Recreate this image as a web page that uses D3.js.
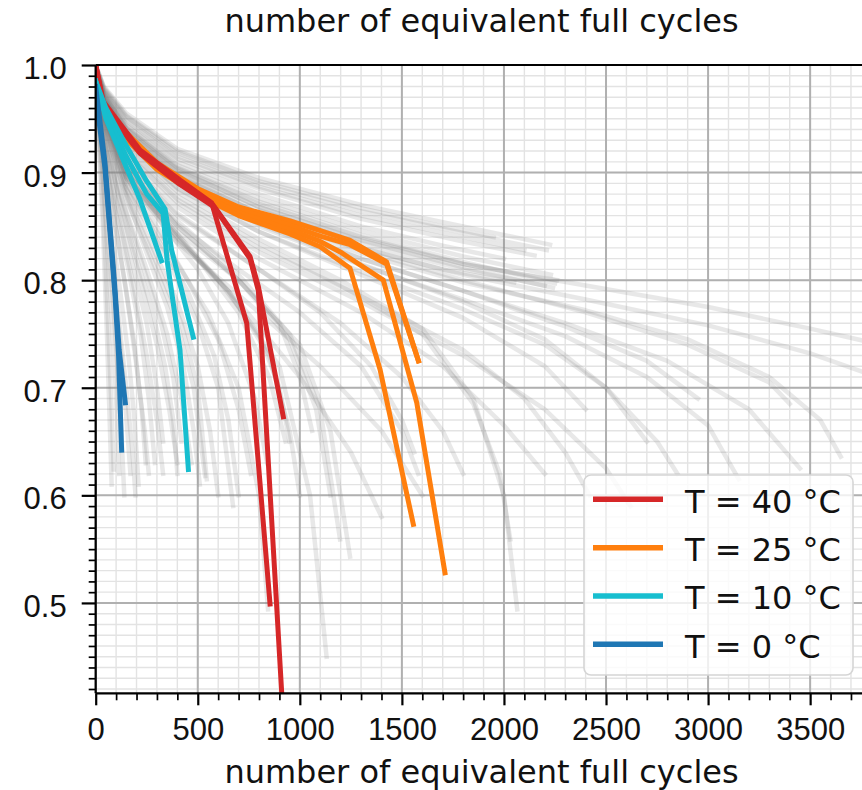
<!DOCTYPE html>
<html>
<head>
<meta charset="utf-8">
<script src="https://cdn.jsdelivr.net/npm/d3@7"></script>
<style>
  html, body { margin: 0; padding: 0; background: #fff; }
  svg { display: block; font-family: "DejaVu Sans", sans-serif; }
</style>
</head>
<body>
<svg id="chart" width="862" height="790"></svg>
<script>
// ---------------- data ----------------
const xDomain = [0, 3780];
const yDomain = [0.416, 1.0];
const xMajorTicks = [0, 500, 1000, 1500, 2000, 2500, 3000, 3500];
const yMajorTicks = [0.5, 0.6, 0.7, 0.8, 0.9, 1.0];
const xLabel = "number of equivalent full cycles";
const legendLabels = ["T = 40 °C", "T = 25 °C", "T = 10 °C", "T = 0 °C"];
const legendColors = ["#d62728", "#ff7f0e", "#17becf", "#1f77b4"];

// T = 40 °C (red)
const red1 = [[0,1.0],[37,0.966],[217,0.921],[413,0.893],[568,0.872],[740,0.760],[854,0.499]];
const red2 = [[0,1.0],[37,0.964],[217,0.919],[413,0.891],[575,0.870],[756,0.822],[797,0.794],[919,0.673]];
const red3 = [[0,1.0],[37,0.962],[217,0.918],[413,0.889],[580,0.868],[756,0.820],[797,0.790],[911,0.417],[925,0.38]];
// T = 25 °C (orange)
const orange1 = [[0,0.985],[40,0.963],[150,0.937],[300,0.909],[500,0.885],[700,0.868],[952,0.855],[1100,0.846],[1246,0.837],[1425,0.817],[1581,0.725]];
const orange4 = [[0,0.985],[40,0.962],[150,0.935],[300,0.907],[500,0.883],[700,0.866],[952,0.851],[1100,0.841],[1246,0.833],[1425,0.815],[1581,0.725]];
const orange2 = [[0,0.985],[40,0.961],[150,0.933],[300,0.905],[500,0.881],[700,0.863],[952,0.847],[1100,0.836],[1200,0.826],[1409,0.800],[1573,0.686],[1711,0.528]];
const orange3 = [[0,0.985],[40,0.960],[150,0.931],[300,0.903],[500,0.879],[700,0.860],[952,0.843],[1100,0.831],[1246,0.811],[1393,0.717],[1556,0.573]];
// T = 10 °C (cyan)
const cyan1 = [[0,0.985],[50,0.960],[150,0.925],[250,0.892],[340,0.866],[372,0.828],[478,0.747]];
const cyan2 = [[0,0.985],[50,0.955],[150,0.915],[250,0.880],[330,0.862],[350,0.818],[413,0.735],[454,0.624]];
const cyan3 = [[0,0.985],[50,0.950],[150,0.905],[215,0.876],[322,0.818]];
// T = 0 °C (blue)
const blue1 = [[0,0.980],[45,0.910],[70,0.850],[95,0.790],[115,0.735],[145,0.686]];
const blue2 = [[0,0.972],[45,0.905],[70,0.845],[95,0.785],[112,0.730],[127,0.642]];

// all other cells (grey background curves)
const greyCurves = [
  [[0,1],[40,0.98],[150,0.955],[400,0.922],[800,0.895],[1300,0.87],[1800,0.85],[2226,0.833]],
  [[0,1],[40,0.978],[150,0.952],[400,0.918],[800,0.89],[1300,0.864],[1800,0.844],[2210,0.828]],
  [[0,0.999],[40,0.976],[150,0.948],[400,0.913],[800,0.885],[1300,0.857],[1800,0.836],[2150,0.823]],
  [[0,0.999],[40,0.975],[150,0.945],[400,0.91],[800,0.88],[1300,0.85],[1700,0.832],[2000,0.82]],
  [[0,0.998],[40,0.973],[150,0.942],[400,0.905],[800,0.873],[1300,0.842],[1800,0.817],[2250,0.797]],
  [[0,0.998],[40,0.972],[150,0.94],[400,0.902],[800,0.868],[1300,0.837],[1800,0.812],[2240,0.793]],
  [[0,0.998],[40,0.971],[150,0.938],[400,0.9],[800,0.865],[1300,0.834],[1800,0.81],[2200,0.795]],
  [[0,0.997],[40,0.97],[150,0.935],[400,0.897],[800,0.862],[1300,0.83],[1700,0.81],[2050,0.798]],
  [[0,0.998],[40,0.972],[150,0.94],[400,0.903],[800,0.868],[1300,0.838],[1800,0.815],[2400,0.795],[3000,0.775],[3500,0.755],[3800,0.742]],
  [[0,0.997],[40,0.97],[150,0.936],[400,0.898],[800,0.862],[1300,0.83],[1800,0.805],[2400,0.782],[3000,0.758],[3500,0.732],[3800,0.712]],
  [[0,0.997],[40,0.969],[150,0.934],[400,0.895],[800,0.858],[1300,0.825],[1800,0.798],[2400,0.772],[2900,0.745],[3300,0.71],[3550,0.67],[3650,0.636]],
  [[0,0.996],[40,0.968],[150,0.932],[400,0.892],[800,0.854],[1300,0.82],[1800,0.79],[2300,0.76],[2800,0.725],[3200,0.68],[3450,0.625]],
  [[0,0.996],[40,0.967],[150,0.93],[400,0.89],[800,0.85],[1300,0.814],[1800,0.782],[2300,0.748],[2700,0.71],[3000,0.665],[3150,0.615]],
  [[0,0.996],[40,0.966],[150,0.928],[400,0.886],[800,0.845],[1300,0.808],[1800,0.773],[2200,0.74],[2500,0.7],[2750,0.65],[2850,0.62]],
  [[0,0.995],[40,0.965],[150,0.925],[400,0.882],[800,0.838],[1200,0.8],[1600,0.755],[1850,0.69],[2000,0.6],[2065,0.494]],
  [[0,0.995],[40,0.964],[150,0.922],[400,0.878],[800,0.834],[1200,0.795],[1600,0.75],[1850,0.685],[1980,0.62],[2031,0.559]],
  [[0,0.995],[40,0.964],[150,0.92],[400,0.875],[800,0.83],[1300,0.785],[1800,0.735],[2100,0.69],[2300,0.64],[2420,0.6]],
  [[0,0.995],[40,0.963],[150,0.918],[400,0.872],[800,0.826],[1300,0.78],[1800,0.73],[2200,0.68],[2500,0.625],[2620,0.59]],
  [[0,0.994],[40,0.962],[150,0.915],[400,0.868],[800,0.82],[1300,0.77],[1700,0.72],[2000,0.665],[2200,0.62]],
  [[0,0.994],[40,0.96],[150,0.912],[400,0.862],[800,0.81],[1200,0.76],[1500,0.71],[1700,0.66],[1800,0.62]],
  [[0,0.994],[40,0.958],[150,0.908],[400,0.855],[700,0.805],[950,0.75],[1100,0.68],[1197,0.559]],
  [[0,0.993],[40,0.957],[150,0.905],[400,0.85],[700,0.8],[1000,0.74],[1150,0.66],[1246,0.543]],
  [[0,0.993],[40,0.955],[150,0.9],[400,0.843],[650,0.79],[900,0.72],[1050,0.6],[1131,0.45]],
  [[0,0.993],[40,0.954],[150,0.897],[400,0.838],[700,0.78],[1000,0.71],[1250,0.64],[1400,0.58]],
  [[0,0.992],[40,0.953],[150,0.895],[400,0.835],[800,0.77],[1100,0.72],[1400,0.66],[1600,0.6]],
  [[0,0.992],[40,0.952],[150,0.89],[350,0.83],[550,0.77],[700,0.7],[800,0.6],[844,0.494]],
  [[0,0.992],[40,0.95],[150,0.885],[350,0.82],[500,0.76],[600,0.7],[673,0.59]],
  [[0,0.991],[40,0.948],[150,0.88],[300,0.815],[420,0.76],[500,0.7],[544,0.615]],
  [[0,0.991],[40,0.946],[150,0.875],[300,0.808],[400,0.76],[480,0.7],[536,0.618]],
  [[0,0.99],[40,0.944],[130,0.875],[250,0.81],[350,0.75],[420,0.69],[470,0.63]],
  [[0,0.99],[40,0.94],[120,0.87],[220,0.8],[300,0.74],[360,0.68],[400,0.63]],
  [[0,0.99],[30,0.945],[100,0.87],[180,0.8],[250,0.73],[300,0.67],[330,0.62]],
  [[0,0.99],[30,0.94],[90,0.86],[150,0.79],[200,0.72],[240,0.66],[260,0.62]],
  [[0,0.99],[30,0.93],[70,0.85],[110,0.77],[150,0.7],[180,0.64],[195,0.6]],
  [[0,0.99],[20,0.93],[50,0.85],[80,0.76],[100,0.69],[115,0.62]],
  [[0,0.99],[20,0.92],[45,0.83],[65,0.74],[80,0.67],[88,0.624]],
  [[0,0.99],[15,0.93],[35,0.85],[55,0.75],[70,0.66],[78,0.61]],
  [[0,0.993],[40,0.956],[150,0.905],[400,0.852],[700,0.81],[1000,0.77],[1300,0.72],[1500,0.66],[1580,0.62]],
  [[0,0.993],[40,0.955],[150,0.9],[400,0.845],[700,0.8],[900,0.76],[1000,0.71],[1060,0.66]],
  [[0,0.992],[40,0.953],[150,0.895],[400,0.84],[600,0.8],[800,0.75],[900,0.7],[950,0.65]],
  [[0,0.996],[40,0.966],[150,0.93],[400,0.89],[800,0.852],[1300,0.815],[1800,0.78],[2200,0.745],[2500,0.7],[2700,0.65]],
  [[0,0.995],[40,0.965],[150,0.927],[400,0.885],[800,0.845],[1300,0.805],[1800,0.765],[2200,0.72],[2400,0.68]],
  [[0,0.997],[40,0.969],[150,0.935],[400,0.896],[800,0.86],[1300,0.828],[1800,0.8],[2400,0.77],[2900,0.74],[3300,0.705],[3400,0.685]],
  [[0,0.996],[40,0.968],[150,0.932],[400,0.893],[800,0.856],[1300,0.82],[1800,0.79],[2300,0.757],[2700,0.725],[2950,0.69]],
  [[0,0.993],[40,0.955],[150,0.905],[300,0.865],[500,0.82],[700,0.77],[850,0.71],[930,0.65]],
  [[0,0.992],[40,0.952],[150,0.9],[300,0.858],[500,0.81],[650,0.76],[780,0.69],[840,0.63]],
  [[0,0.992],[40,0.95],[150,0.895],[300,0.85],[450,0.8],[600,0.745],[700,0.68],[760,0.62]],
  [[0,0.991],[40,0.948],[150,0.89],[300,0.84],[450,0.79],[580,0.73],[650,0.67],[700,0.6]],
  [[0,0.991],[40,0.946],[150,0.885],[280,0.83],[400,0.78],[500,0.72],[560,0.66],[600,0.6]],
  [[0,0.99],[40,0.944],[150,0.878],[250,0.825],[350,0.775],[430,0.72],[480,0.66],[510,0.61]],
  [[0,0.99],[40,0.94],[120,0.88],[220,0.82],[320,0.76],[380,0.71],[420,0.65]],
  [[0,0.99],[30,0.945],[110,0.88],[200,0.82],[280,0.77],[340,0.72],[380,0.67],[400,0.62]],
  [[0,0.99],[30,0.94],[100,0.875],[180,0.815],[250,0.76],[300,0.7],[330,0.65]],
  [[0,0.99],[30,0.935],[90,0.87],[160,0.81],[220,0.75],[260,0.69],[290,0.63]],
  [[0,0.99],[25,0.94],[80,0.87],[140,0.8],[190,0.74],[225,0.68],[245,0.63]],
  [[0,0.99],[25,0.935],[70,0.86],[120,0.79],[160,0.73],[190,0.67],[210,0.61]],
  [[0,0.99],[20,0.94],[60,0.86],[100,0.78],[130,0.72],[155,0.66],[170,0.62]],
  [[0,0.99],[20,0.935],[50,0.86],[85,0.78],[110,0.71],[128,0.65],[140,0.6]],
  [[0,1],[40,0.979],[150,0.953],[400,0.92],[800,0.892],[1300,0.867],[1700,0.85],[1950,0.84]],
  [[0,0.999],[40,0.977],[150,0.95],[400,0.915],[800,0.887],[1300,0.86],[1800,0.84],[2100,0.828]],
  [[0,0.998],[40,0.974],[150,0.944],[400,0.907],[800,0.876],[1300,0.846],[1800,0.822],[2230,0.805]],
  [[0,0.998],[40,0.973],[150,0.941],[400,0.904],[800,0.871],[1300,0.84],[1800,0.815],[2260,0.8]],
  [[0,0.993],[40,0.956],[150,0.905],[400,0.85],[700,0.8],[950,0.745],[1080,0.68],[1150,0.6]],
  [[0,0.992],[40,0.953],[150,0.897],[400,0.84],[650,0.79],[850,0.73],[950,0.66],[1000,0.6]],
  [[0,0.994],[40,0.959],[150,0.91],[400,0.86],[800,0.81],[1100,0.77],[1350,0.72],[1500,0.67],[1560,0.64]]
];

// ---------------- drawing ----------------
const svg = d3.select("#chart");
const L = 95.7, R = 867.3, T = 65, B = 693.3;
const x = d3.scaleLinear().domain(xDomain).range([L, R]);
const y = d3.scaleLinear().domain(yDomain).range([B, T]);

svg.append("defs").append("clipPath").attr("id", "clip")
  .append("rect").attr("x", L).attr("y", T).attr("width", R - L).attr("height", B - T);

const xMinor = d3.range(0, xDomain[1] + 1, 100);
const yMinor = d3.range(42, 101, 1).map(d => d / 100);

// minor grid
const grid = svg.append("g");
grid.selectAll(".vmin").data(xMinor).join("line")
  .attr("x1", d => x(d)).attr("x2", d => x(d)).attr("y1", T).attr("y2", B)
  .attr("stroke", "#e3e3e3").attr("stroke-width", 1.4);
grid.selectAll(".hmin").data(yMinor).join("line")
  .attr("y1", d => y(d)).attr("y2", d => y(d)).attr("x1", L).attr("x2", R)
  .attr("stroke", "#e3e3e3").attr("stroke-width", 1.4);
// major grid
grid.selectAll(".vmaj").data(xMajorTicks).join("line")
  .attr("x1", d => x(d)).attr("x2", d => x(d)).attr("y1", T).attr("y2", B)
  .attr("stroke", "#b0b0b0").attr("stroke-width", 2);
grid.selectAll(".hmaj").data(yMajorTicks).join("line")
  .attr("y1", d => y(d)).attr("y2", d => y(d)).attr("x1", L).attr("x2", R)
  .attr("stroke", "#b0b0b0").attr("stroke-width", 2);

const line = d3.line().x(d => x(d[0])).y(d => y(d[1]));
const plot = svg.append("g").attr("clip-path", "url(#clip)");

plot.selectAll(".grey").data(greyCurves).join("path")
  .attr("d", line).attr("fill", "none")
  .attr("stroke", "#7f7f7f").attr("stroke-opacity", 0.18)
  .attr("stroke-width", 4.5).attr("stroke-linejoin", "round").attr("stroke-linecap", "square");

const coloured = [
  {data: orange1, c: legendColors[1]}, {data: orange4, c: legendColors[1]},
  {data: orange2, c: legendColors[1]}, {data: orange3, c: legendColors[1]},
  {data: red1, c: legendColors[0]}, {data: red2, c: legendColors[0]}, {data: red3, c: legendColors[0]},
  {data: cyan1, c: legendColors[2]}, {data: cyan2, c: legendColors[2]}, {data: cyan3, c: legendColors[2]},
  {data: blue1, c: legendColors[3]}, {data: blue2, c: legendColors[3]}
];
plot.selectAll(".col").data(coloured).join("path")
  .attr("d", d => line(d.data)).attr("fill", "none")
  .attr("stroke", d => d.c).attr("stroke-width", 5)
  .attr("stroke-linejoin", "round").attr("stroke-linecap", "square");

// axes
const xAxis = d3.axisBottom(x).tickValues(xMajorTicks).tickFormat(d3.format("d"))
  .tickSize(12).tickPadding(0);
const gx = svg.append("g").attr("transform", `translate(0,${B})`).call(xAxis);
gx.select(".domain").remove();
gx.selectAll(".tick line").attr("stroke", "#000").attr("stroke-width", 2.2);
gx.selectAll(".tick text").attr("font-size", 31).attr("fill", "#111")
  .attr("y", 0).attr("dy", 0).attr("transform", "translate(0,47)");

const gxm = svg.append("g").attr("transform", `translate(0,${B})`)
  .call(d3.axisBottom(x).tickValues(xMinor.filter(d => d % 500 !== 0)).tickSize(7).tickFormat(""));
gxm.select(".domain").remove();
gxm.selectAll(".tick line").attr("stroke", "#000").attr("stroke-width", 1.7);

const yAxis = d3.axisLeft(y).tickValues(yMajorTicks).tickFormat(d3.format(".1f"))
  .tickSize(14).tickPadding(0);
const gy = svg.append("g").attr("transform", `translate(${L},0)`).call(yAxis);
gy.select(".domain").remove();
gy.selectAll(".tick line").attr("stroke", "#000").attr("stroke-width", 2.2);
gy.selectAll(".tick text").attr("font-size", 31).attr("fill", "#111")
  .attr("x", -29).attr("dy", 0).attr("transform", "translate(0,13.5)");

const gym = svg.append("g").attr("transform", `translate(${L},0)`)
  .call(d3.axisLeft(y).tickValues(yMinor.filter(d => Math.round(d * 100) % 10 !== 0)).tickSize(7).tickFormat(""));
gym.select(".domain").remove();
gym.selectAll(".tick line").attr("stroke", "#000").attr("stroke-width", 1.7);

// spines
svg.append("line").attr("x1", L).attr("x2", L).attr("y1", T).attr("y2", B).attr("stroke", "#000").attr("stroke-width", 2.2);
svg.append("line").attr("x1", L).attr("x2", R).attr("y1", B).attr("y2", B).attr("stroke", "#000").attr("stroke-width", 2.2);
svg.append("line").attr("x1", L).attr("x2", R).attr("y1", T).attr("y2", T).attr("stroke", "#000").attr("stroke-width", 2.2);
svg.append("line").attr("x1", R).attr("x2", R).attr("y1", T).attr("y2", B).attr("stroke", "#000").attr("stroke-width", 2.2);

// axis labels
const cx = (L + R) / 2;
svg.append("text").attr("x", cx).attr("y", 32).attr("text-anchor", "middle")
  .attr("font-size", 32).attr("fill", "#111").text(xLabel);
svg.append("text").attr("x", cx).attr("y", 783).attr("text-anchor", "middle")
  .attr("font-size", 32).attr("fill", "#111").text(xLabel);

// legend
const lg = svg.append("g");
lg.append("rect").attr("x", 584).attr("y", 475).attr("width", 269).attr("height", 200)
  .attr("rx", 7).attr("fill", "#fff").attr("fill-opacity", 0.8)
  .attr("stroke", "#d5d5d5").attr("stroke-width", 1.6);
const ly = d3.scaleLinear().domain([0, 3]).range([499.3, 644.3]);
const items = lg.selectAll(".item").data(legendLabels).join("g");
items.append("line").attr("x1", 593).attr("x2", 663).attr("y1", (d, i) => ly(i)).attr("y2", (d, i) => ly(i))
  .attr("stroke", (d, i) => legendColors[i]).attr("stroke-width", 5.5);
items.append("text").attr("x", 685).attr("y", (d, i) => ly(i) + 13.4)
  .attr("font-size", 32).attr("fill", "#111").text(d => d);
</script>
</body>
</html>
